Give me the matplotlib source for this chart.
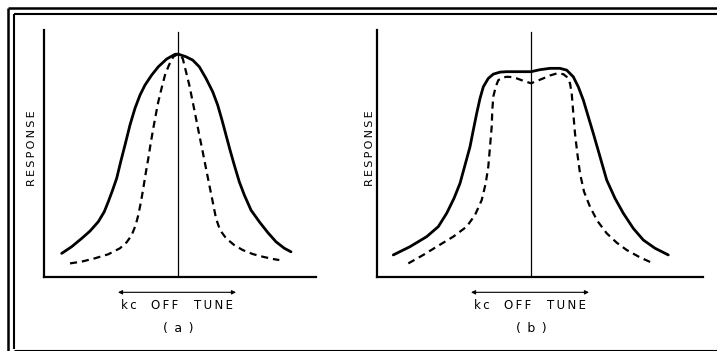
import matplotlib
matplotlib.use('Agg')
import matplotlib.pyplot as plt
from matplotlib.lines import Line2D

# kc off tune (arbitrary units, 0 = centre) vs relative response
a_solid_x = [-11.63, -10.63, -9.63, -8.8, -7.97, -7.37, -6.97, -6.57, -6.13, -5.73,
             -5.3, -4.8, -4.3, -3.8, -3.3, -2.63, -1.97, -1.13, -0.3, 0.0,
             0.8, 1.47, 2.13, 2.8, 3.47, 3.97, 4.4, 4.8, 5.2, 5.63,
             6.13, 6.63, 7.3, 8.13, 8.97, 9.8, 10.63, 11.3]
a_solid_y = [0.106, 0.136, 0.173, 0.206, 0.248, 0.293, 0.338, 0.386, 0.443, 0.517,
             0.592, 0.682, 0.757, 0.816, 0.861, 0.906, 0.943, 0.978, 0.999, 1.0,
             0.988, 0.973, 0.943, 0.891, 0.831, 0.771, 0.704, 0.637, 0.570, 0.502,
             0.427, 0.368, 0.300, 0.248, 0.200, 0.158, 0.129, 0.113]
a_dash_x = [-10.8, -9.63, -8.3, -6.97, -5.8, -5.13, -4.63, -4.23, -3.97, -3.7,
            -3.47, -3.23, -2.97, -2.73, -2.47, -2.23, -1.97, -1.63, -1.3, -0.9,
            -0.47, 0.0, 0.47, 0.8, 1.13, 1.47, 1.8, 2.13, 2.47, 2.8,
            3.13, 3.47, 3.8, 4.2, 4.8, 5.63, 6.47, 7.47, 8.47, 9.47, 10.13]
a_dash_y = [0.061, 0.069, 0.084, 0.102, 0.129, 0.156, 0.188, 0.233, 0.278, 0.338,
            0.398, 0.465, 0.532, 0.600, 0.667, 0.726, 0.786, 0.849, 0.906, 0.951,
            0.988, 1.0, 0.981, 0.921, 0.861, 0.786, 0.712, 0.637, 0.562, 0.487,
            0.413, 0.338, 0.263, 0.211, 0.174, 0.143, 0.121, 0.103, 0.091, 0.081, 0.076]

b_solid_x = [-13.77, -12.1, -10.43, -9.27, -8.43, -7.7, -7.1, -6.6, -6.1, -5.77,
             -5.43, -5.1, -4.77, -4.27, -3.77, -3.1, -2.43, -1.27, 0.0, 0.9,
             1.9, 2.9, 3.57, 4.23, 4.73, 5.23, 5.73, 6.23, 6.9, 7.57,
             8.4, 9.23, 10.23, 11.23, 12.4, 13.73]
b_solid_y = [0.099, 0.136, 0.181, 0.226, 0.286, 0.353, 0.420, 0.502, 0.584, 0.659,
             0.734, 0.801, 0.853, 0.891, 0.910, 0.919, 0.921, 0.921, 0.921, 0.930,
             0.936, 0.936, 0.928, 0.898, 0.853, 0.794, 0.719, 0.644, 0.540, 0.435,
             0.353, 0.286, 0.218, 0.166, 0.129, 0.099]
b_dash_x = [-12.27, -10.77, -9.43, -7.77, -6.43, -5.6, -4.93, -4.53, -4.27, -4.1,
            -3.93, -3.87, -3.77, -3.53, -3.27, -2.83, -2.43, -1.93, -1.43, -0.77,
            0.0, 0.57, 1.23, 1.9, 2.57, 3.23, 3.57, 3.9, 4.07, 4.23,
            4.4, 4.63, 4.9, 5.3, 5.9, 6.63, 7.57, 8.57, 9.57, 10.9, 12.23]
b_dash_y = [0.061, 0.099, 0.136, 0.181, 0.226, 0.278, 0.345, 0.420, 0.495, 0.584,
            0.674, 0.749, 0.809, 0.853, 0.883, 0.895, 0.898, 0.897, 0.891, 0.880,
            0.869, 0.879, 0.891, 0.904, 0.913, 0.910, 0.898, 0.869, 0.824, 0.734,
            0.644, 0.555, 0.465, 0.383, 0.315, 0.252, 0.196, 0.154, 0.121, 0.088, 0.061]

panel_labels = ['(a)', '(b)']
y_label = 'RESPONSE'
x_words = ['kc', 'OFF', 'TUNE']
x_word_pos = [-4.9, -1.35, 3.55]

W, H = 717, 351
fig = plt.figure(figsize=(W / 100, H / 100), dpi=100)
fig.patch.set_facecolor('white')

# double border of the printed figure
def fline(xs, ys, lw):
    fig.add_artist(Line2D([x / W for x in xs], [1 - y / H for y in ys],
                          transform=fig.transFigure, color='black', lw=lw,
                          solid_capstyle='butt'))

fline([8, 8], [8, 351], 1.8)
fline([8, 717], [8, 8], 1.8)
fline([13.5, 13.5], [13.5, 349], 1.5)
fline([13.5, 717], [13.5, 13.5], 1.5)
fline([13.5, 717], [349.5, 349.5], 0.8)

thin = '\u2009'


def spaced(s):
    return thin.join(s)


def draw_panel(rect, xlim, sx, sy, dx, dy, label, ylab_off):
    ax = fig.add_axes([rect[0] / W, 1 - rect[3] / H, (rect[2] - rect[0]) / W,
                       (rect[3] - rect[1]) / H])
    ax.set_facecolor('none')
    ax.set_xlim(*xlim)
    ax.set_ylim(0, 1.108)
    for s in ['top', 'right']:
        ax.spines[s].set_visible(False)
    for s in ['left', 'bottom']:
        ax.spines[s].set_linewidth(1.6)
    ax.set_xticks([])
    ax.set_yticks([])

    ax.axvline(0, ymin=0, ymax=0.99, color='black', lw=0.9)
    ax.plot(sx, sy, color='black', lw=2.0, solid_joinstyle='round',
            solid_capstyle='round')
    ax.plot(dx, dy, color='black', lw=1.6, linestyle=(0, (3.2, 2.2)))

    ax.text(ylab_off, 0.52, spaced(y_label), transform=ax.transAxes,
            rotation=90, ha='center', va='center', fontsize=8)

    tr = ax.get_xaxis_transform()
    ax.annotate('', xy=(-6.0, -0.062), xytext=(5.8, -0.062), xycoords=tr,
                textcoords=tr, annotation_clip=False,
                arrowprops=dict(arrowstyle='<|-|>', color='black', lw=0.8,
                                mutation_scale=6, shrinkA=0, shrinkB=0))
    for w, xp in zip(x_words, x_word_pos):
        ax.text(xp, -0.115, spaced(w), transform=tr, ha='center', va='center',
                fontsize=8.5)
    ax.text(0, -0.207, thin.join([label[0], ' ' + label[1] + ' ', label[2]]),
            transform=tr, ha='center', va='center', fontsize=9)
    return ax


draw_panel((44, 30, 316, 277), (-13.4, 13.8), a_solid_x, a_solid_y,
           a_dash_x, a_dash_y, panel_labels[0], -0.043)
draw_panel((377, 30, 703, 277), (-15.4, 17.2), b_solid_x, b_solid_y,
           b_dash_x, b_dash_y, panel_labels[1], -0.022)

fig.savefig('out.png', dpi=100)
plt.close(fig)
